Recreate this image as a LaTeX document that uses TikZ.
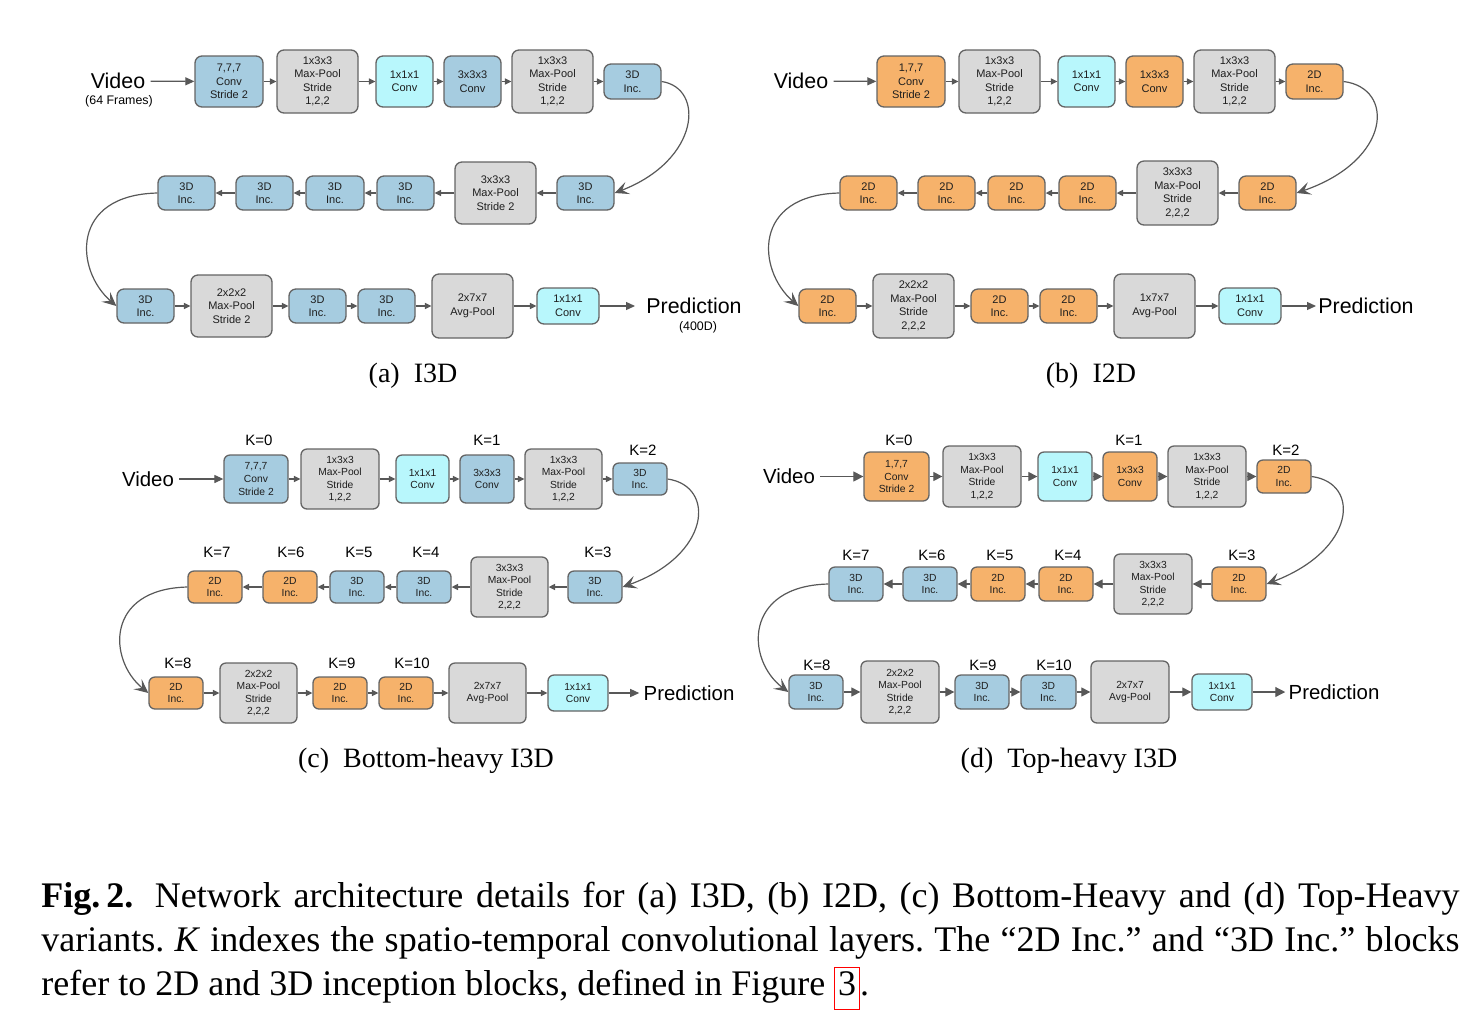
\documentclass[tikz,border=0pt]{standalone}
\usepackage{fontspec}
\setmainfont{Liberation Serif}
\setsansfont{Liberation Sans}
\usetikzlibrary{arrows.meta}
\definecolor{cB}{RGB}{166,204,224}
\definecolor{cO}{RGB}{246,178,107}
\definecolor{cC}{RGB}{184,247,252}
\definecolor{cG}{RGB}{217,217,217}
\definecolor{bdr}{RGB}{100,100,100}
\definecolor{arw}{RGB}{88,88,88}
\definecolor{txt}{RGB}{30,30,30}
\newcommand\bxnode[7]{\node[blk,fill=#6,minimum width={(#4-#2)*0.5pt},minimum height={(#5-#3)*0.5pt}] (#1) at ({(#2+#4)/2},{(#3+#5)/2}) {#7};}
\setlength{\fboxsep}{1.5pt}
\setlength{\fboxrule}{0.5pt}
\begin{document}
\begin{tikzpicture}[x=0.5pt,y=-0.5pt,
  blk/.style={draw=bdr,line width=0.65pt,rounded corners=3.5pt,inner sep=0pt,align=center,text=txt,font=\sffamily\fontsize{5.5}{6.75}\selectfont},
  arrs/.style={draw=arw,line width=0.6pt,-{Triangle[length=3.2pt,width=3pt]}},
  arrm/.style={draw=arw,line width=0.6pt,-{Triangle[length=4.5pt,width=4pt]}},
  carr/.style={draw=arw,line width=0.6pt,-{Stealth[length=7pt,width=6.5pt,inset=3pt]}},
  vid/.style={font=\sffamily\fontsize{10.7}{12}\selectfont,inner sep=2.5pt},
  vidc/.style={font=\sffamily\fontsize{10.2}{12}\selectfont,inner sep=2.5pt},
  sml/.style={font=\sffamily\fontsize{6.2}{7}\selectfont,inner sep=0pt},
  klab/.style={font=\sffamily\fontsize{7.5}{9}\selectfont,inner sep=0pt},
  subcap/.style={font=\fontsize{14}{16}\selectfont,inner sep=0pt},
  capl/.style={anchor=base west,inner sep=0pt,font=\fontsize{18}{22}\selectfont\frenchspacing}]
\fill[white] (0,0) rectangle (1468,1030);
\useasboundingbox (0,0) rectangle (1468,1030);

% ================= (a) I3D =================
\node[vid] (va) at (118,81) {Video};
\node[sml] (vaf) at (119,101) {(64 Frames)};
\bxnode{a1}{195}{56}{263}{107}{cB}{7,7,7\\Conv\\Stride 2}
\bxnode{a2}{277}{50}{358}{113}{cG}{1x3x3\\Max-Pool\\Stride\\1,2,2}
\bxnode{a3}{376}{56}{433}{107}{cC}{1x1x1\\Conv}
\bxnode{a4}{444}{56}{501}{107}{cB}{3x3x3\\Conv}
\bxnode{a5}{512}{50}{593}{113}{cG}{1x3x3\\Max-Pool\\Stride\\1,2,2}
\bxnode{a6}{604}{64}{661}{99}{cB}{3D\\Inc.}
\bxnode{a7}{557}{176}{614}{210}{cB}{3D\\Inc.}
\bxnode{a8}{455}{162}{536}{224}{cG}{3x3x3\\Max-Pool\\Stride 2}
\bxnode{a9}{377}{176}{434}{210}{cB}{3D\\Inc.}
\bxnode{a10}{306}{176}{364}{210}{cB}{3D\\Inc.}
\bxnode{a11}{236}{176}{293}{210}{cB}{3D\\Inc.}
\bxnode{a12}{158}{176}{215}{210}{cB}{3D\\Inc.}
\bxnode{a13}{117}{289}{174}{323}{cB}{3D\\Inc.}
\bxnode{a14}{191}{275}{272}{337}{cG}{2x2x2\\Max-Pool\\Stride 2}
\bxnode{a15}{289}{289}{346}{323}{cB}{3D\\Inc.}
\bxnode{a16}{358}{289}{415}{323}{cB}{3D\\Inc.}
\bxnode{a17}{432}{274}{513}{338}{cG}{2x7x7\\Avg-Pool}
\bxnode{a18}{537}{288}{599}{324}{cC}{1x1x1\\Conv}
\node[vid,inner sep=0pt] (pa) at (694,306) {Prediction};
\node[sml] (pa4) at (698,327) {(400D)};
\draw[arrm] (va) -- (a1);
\foreach \p/\q in {a1/a2,a2/a3,a3/a4,a4/a5,a5/a6,a7/a8,a8/a9,a9/a10,a10/a11,a11/a12,a13/a14,a14/a15,a15/a16,a16/a17,a17/a18}
  \draw[arrs] (\p) -- (\q);
\draw[arrm,shorten >=5.5pt] (a18) -- (pa);
\draw[carr] (a6.east) .. controls (705,88) and (700,160) .. (a7.east);
\draw[carr] (a12.west) .. controls (70,195) and (75,270) .. (a13.west);
\node[subcap] (capa) at (413,376) {(a)\enspace I3D};

% ================= (b) I2D =================
\node[vid] (vb) at (801,81) {Video};
\bxnode{b1}{877}{56}{945}{107}{cO}{1,7,7\\Conv\\Stride 2}
\bxnode{b2}{959}{50}{1040}{113}{cG}{1x3x3\\Max-Pool\\Stride\\1,2,2}
\bxnode{b3}{1058}{56}{1115}{107}{cC}{1x1x1\\Conv}
\bxnode{b4}{1126}{56}{1183}{107}{cO}{1x3x3\\Conv}
\bxnode{b5}{1194}{50}{1275}{113}{cG}{1x3x3\\Max-Pool\\Stride\\1,2,2}
\bxnode{b6}{1286}{64}{1343}{99}{cO}{2D\\Inc.}
\bxnode{b7}{1239}{176}{1296}{210}{cO}{2D\\Inc.}
\bxnode{b8}{1137}{161}{1218}{225}{cG}{3x3x3\\Max-Pool\\Stride\\2,2,2}
\bxnode{b9}{1059}{176}{1116}{210}{cO}{2D\\Inc.}
\bxnode{b10}{988}{176}{1045}{210}{cO}{2D\\Inc.}
\bxnode{b11}{918}{176}{975}{210}{cO}{2D\\Inc.}
\bxnode{b12}{840}{176}{897}{210}{cO}{2D\\Inc.}
\bxnode{b13}{799}{289}{856}{323}{cO}{2D\\Inc.}
\bxnode{b14}{873}{274}{954}{338}{cG}{2x2x2\\Max-Pool\\Stride\\2,2,2}
\bxnode{b15}{971}{289}{1028}{323}{cO}{2D\\Inc.}
\bxnode{b16}{1040}{289}{1097}{323}{cO}{2D\\Inc.}
\bxnode{b17}{1114}{274}{1195}{338}{cG}{1x7x7\\Avg-Pool}
\bxnode{b18}{1219}{288}{1281}{324}{cC}{1x1x1\\Conv}
\node[vid,inner sep=0pt] (pb) at (1366,306) {Prediction};
\draw[arrm] (vb) -- (b1);
\foreach \p/\q in {b1/b2,b2/b3,b3/b4,b4/b5,b5/b6,b7/b8,b8/b9,b9/b10,b10/b11,b11/b12,b13/b14,b14/b15,b15/b16,b16/b17,b17/b18}
  \draw[arrs] (\p) -- (\q);
\draw[arrm,shorten >=1pt] (b18) -- (pb);
\draw[carr] (b6.east) .. controls (1395,88) and (1392,160) .. (b7.east);
\draw[carr] (b12.west) .. controls (752,195) and (757,270) .. (b13.west);
\node[subcap] (capb) at (1091,376) {(b)\enspace I2D};

% ================= (c) Bottom-heavy =================
\begin{scope}[blk/.append style={font=\sffamily\fontsize{5.15}{6.3}\selectfont,rounded corners=3pt}]
\node[vidc] (vc) at (148,479) {Video};
\bxnode{c1}{224}{455}{288}{503}{cB}{7,7,7\\Conv\\Stride 2}
\bxnode{c2}{301}{449}{379}{509}{cG}{1x3x3\\Max-Pool\\Stride\\1,2,2}
\bxnode{c3}{396}{455}{449}{503}{cC}{1x1x1\\Conv}
\bxnode{c4}{460}{455}{514}{503}{cB}{3x3x3\\Conv}
\bxnode{c5}{525}{449}{602}{509}{cG}{1x3x3\\Max-Pool\\Stride\\1,2,2}
\bxnode{c6}{613}{463}{667}{495}{cB}{3D\\Inc.}
\bxnode{c7}{568}{571}{622}{603}{cB}{3D\\Inc.}
\bxnode{c8}{471}{557}{548}{617}{cG}{3x3x3\\Max-Pool\\Stride\\2,2,2}
\bxnode{c9}{397}{571}{451}{603}{cB}{3D\\Inc.}
\bxnode{c10}{330}{571}{384}{603}{cB}{3D\\Inc.}
\bxnode{c11}{263}{571}{317}{603}{cO}{2D\\Inc.}
\bxnode{c12}{188}{571}{242}{603}{cO}{2D\\Inc.}
\bxnode{c13}{149}{677}{203}{709}{cO}{2D\\Inc.}
\bxnode{c14}{220}{663}{297}{723}{cG}{2x2x2\\Max-Pool\\Stride\\2,2,2}
\bxnode{c15}{313}{677}{367}{709}{cO}{2D\\Inc.}
\bxnode{c16}{379}{677}{433}{709}{cO}{2D\\Inc.}
\bxnode{c17}{449}{663}{526}{723}{cG}{2x7x7\\Avg-Pool}
\bxnode{c18}{548}{675}{608}{711}{cC}{1x1x1\\Conv}
\node[vidc,inner sep=0pt] (pc) at (689,693) {Prediction};
\draw[arrm] (vc) -- (c1);
\foreach \p/\q in {c1/c2,c2/c3,c3/c4,c4/c5,c5/c6,c7/c8,c8/c9,c9/c10,c10/c11,c11/c12,c13/c14,c14/c15,c15/c16,c16/c17,c17/c18}
  \draw[arrs] (\p) -- (\q);
\draw[arrm,shorten >=2pt] (c18) -- (pc);
\draw[carr] (c6.east) .. controls (716,486) and (711,555) .. (c7.east);
\draw[carr] (c12.west) .. controls (105,589) and (108,660) .. (c13.west);
\node[klab] (kc0) at (259,440) {K=0};
\node[klab] (kc1) at (487,440) {K=1};
\node[klab] (kc2) at (643,450) {K=2};
\node[klab] (kc3) at (598,552.5) {K=3};
\node[klab] (kc4) at (426,552) {K=4};
\node[klab] (kc5) at (359,552) {K=5};
\node[klab] (kc6) at (291,552) {K=6};
\node[klab] (kc7) at (217,552) {K=7};
\node[klab] (kc8) at (178,663) {K=8};
\node[klab] (kc9) at (342,663) {K=9};
\node[klab] (kc10) at (412,663) {K=10};
\end{scope}
\node[subcap] (capc) at (426,761) {(c)\enspace Bottom-heavy I3D};

% ================= (d) Top-heavy =================
\begin{scope}[blk/.append style={font=\sffamily\fontsize{5.15}{6.3}\selectfont,rounded corners=3pt},
  arrs/.style={draw=arw,line width=0.6pt,-{Triangle[length=4.5pt,width=4.5pt]}},
  arrm/.style={draw=arw,line width=0.6pt,-{Triangle[length=5pt,width=5pt]}}]
\node[vidc] (vd) at (789,476.5) {Video};
\bxnode{d1}{864}{452}{929}{501}{cO}{1,7,7\\Conv\\Stride 2}
\bxnode{d2}{943}{446}{1021}{507}{cG}{1x3x3\\Max-Pool\\Stride\\1,2,2}
\bxnode{d3}{1038}{452}{1092}{501}{cC}{1x1x1\\Conv}
\bxnode{d4}{1103}{452}{1157}{501}{cO}{1x3x3\\Conv}
\bxnode{d5}{1168}{446}{1246}{507}{cG}{1x3x3\\Max-Pool\\Stride\\1,2,2}
\bxnode{d6}{1257}{460}{1311}{493}{cO}{2D\\Inc.}
\bxnode{d7}{1212}{567}{1266}{601}{cO}{2D\\Inc.}
\bxnode{d8}{1114}{554}{1192}{614}{cG}{3x3x3\\Max-Pool\\Stride\\2,2,2}
\bxnode{d9}{1039}{567}{1093}{601}{cO}{2D\\Inc.}
\bxnode{d10}{971}{567}{1025}{601}{cO}{2D\\Inc.}
\bxnode{d11}{903}{567}{957}{601}{cB}{3D\\Inc.}
\bxnode{d12}{829}{567}{883}{601}{cB}{3D\\Inc.}
\bxnode{d13}{789}{675}{843}{709}{cB}{3D\\Inc.}
\bxnode{d14}{861}{661}{939}{723}{cG}{2x2x2\\Max-Pool\\Stride\\2,2,2}
\bxnode{d15}{955}{675}{1009}{709}{cB}{3D\\Inc.}
\bxnode{d16}{1021}{675}{1076}{709}{cB}{3D\\Inc.}
\bxnode{d17}{1091}{661}{1169}{723}{cG}{2x7x7\\Avg-Pool}
\bxnode{d18}{1192}{674}{1252}{710}{cC}{1x1x1\\Conv}
\node[vidc,inner sep=0pt] (pd) at (1334,692) {Prediction};
\draw[arrm] (vd) -- (d1);
\foreach \p/\q in {d1/d2,d2/d3,d3/d4,d4/d5,d5/d6,d7/d8,d8/d9,d9/d10,d10/d11,d11/d12,d13/d14,d14/d15,d15/d16,d16/d17,d17/d18}
  \draw[arrs] (\p) -- (\q);
\draw[arrm,shorten >=1.5pt] (d18) -- (pd);
\draw[carr] (d6.east) .. controls (1361,483) and (1356,550) .. (d7.east);
\draw[carr] (d12.west) .. controls (743,586) and (746,660) .. (d13.west);
\node[klab] (kd0) at (899,440.5) {K=0};
\node[klab] (kd1) at (1129,440.5) {K=1};
\node[klab] (kd2) at (1286,450.5) {K=2};
\node[klab] (kd3) at (1242,555) {K=3};
\node[klab] (kd4) at (1068,555) {K=4};
\node[klab] (kd5) at (1000,555) {K=5};
\node[klab] (kd6) at (932,555) {K=6};
\node[klab] (kd7) at (856,555) {K=7};
\node[klab] (kd8) at (817,665.5) {K=8};
\node[klab] (kd9) at (983,665.5) {K=9};
\node[klab] (kd10) at (1054,665.5) {K=10};
\end{scope}
\node[subcap] (capd) at (1069,761) {(d)\enspace Top-heavy I3D};

% ================= Figure caption =================
\node[capl] (cap1) at (41,907) {\makebox[709pt][s]{\textbf{Fig.\,2.}\hspace{0.6em}Network architecture details for (a) I3D, (b) I2D, (c) Bottom-Heavy and (d) Top-Heavy}};
\node[capl] (cap2) at (41,951) {\makebox[709pt][s]{variants. \textit{K} indexes the spatio-temporal convolutional layers. The “2D Inc.” and “3D Inc.” blocks}};
\node[capl] (cap3) at (41,995) {refer to 2D and 3D inception blocks, defined in Figure~\fcolorbox{red}{white}{\rule[-5.5pt]{0pt}{17pt}3}.};
\end{tikzpicture}
\end{document}
